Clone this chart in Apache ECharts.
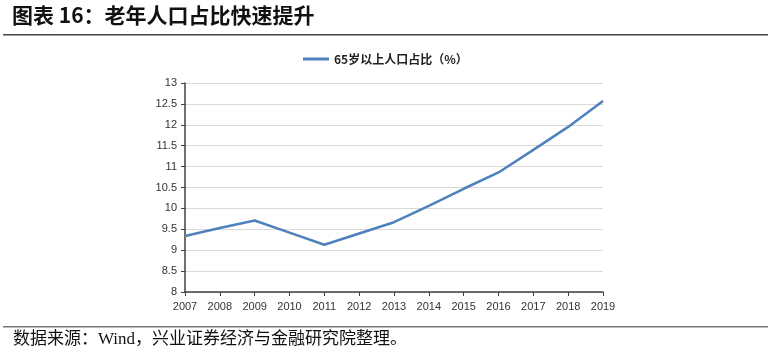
<!DOCTYPE html>
<html>
<head>
<meta charset="utf-8">
<script src="https://cdn.jsdelivr.net/npm/echarts@6/dist/echarts.min.js"></script>
<style>
html,body{margin:0;padding:0;background:#fff;}
#c{width:768px;height:361px;}
</style>
</head>
<body>
<div id="c"></div>
<script>
const years = ['2007','2008','2009','2010','2011','2012','2013','2014','2015','2016','2017','2018','2019'];
const share65 = [9.34, 9.53, 9.71, 9.42, 9.13, 9.40, 9.67, 10.06, 10.47, 10.86, 11.40, 11.95, 12.57];
const seriesName = '65岁以上人口占比（%）';
const titleText = '图表 16：老年人口占比快速提升';
const sourceText = '数据来源：Wind，兴业证券经济与金融研究院整理。';

const chart = echarts.init(document.getElementById('c'));
chart.setOption({
  animation: false,
  backgroundColor: '#fff',
  legend: {
    top: 48,
    left: 298,
    itemWidth: 26,
    itemHeight: 3,
    itemGap: 4,
    icon: 'rect',
    textStyle: {fontSize: 12, fontWeight: 'bold', color: '#222', fontFamily: '"Noto Sans CJK SC", sans-serif'},
    data: [seriesName]
  },
  grid: {left: 185, right: 165, top: 83, bottom: 69},
  xAxis: {
    type: 'category',
    data: years,
    boundaryGap: false,
    axisLine: {lineStyle: {color: '#404040', width: 1.5}},
    axisTick: {show: true, alignWithLabel: true, length: 4, lineStyle: {color: '#404040'}},
    axisLabel: {color: '#333', fontSize: 11, margin: 9, fontFamily: '"Liberation Sans", sans-serif'}
  },
  yAxis: {
    type: 'value',
    min: 8, max: 13, interval: 0.5,
    axisLine: {show: true, lineStyle: {color: '#404040', width: 1.5}},
    axisTick: {show: true, length: 4, lineStyle: {color: '#404040'}},
    axisLabel: {color: '#333', fontSize: 11, margin: 8, fontFamily: '"Liberation Sans", sans-serif'},
    splitLine: {lineStyle: {color: '#d9d9d9', width: 1}}
  },
  series: [{
    name: seriesName,
    type: 'line',
    data: share65,
    symbol: 'none',
    lineStyle: {color: '#4f81bd', width: 2.5},
    itemStyle: {color: '#4f81bd'}
  }],
  graphic: [
    {type: 'text', left: 12, top: 5, style: {text: titleText, fontSize: 21, fontWeight: 'bold', fill: '#111', fontFamily: '"Noto Sans CJK SC", sans-serif'}},
    {type: 'rect', left: 3, top: 34, shape: {width: 765, height: 1.5}, style: {fill: '#444'}},
    {type: 'rect', left: 3, top: 326, shape: {width: 765, height: 1.5}, style: {fill: '#777'}},
    {type: 'text', left: 13, top: 331, style: {text: sourceText, fontSize: 17, fill: '#111', fontFamily: '"Liberation Serif", "Noto Sans CJK SC", serif'}}
  ]
});
</script>
</body>
</html>
